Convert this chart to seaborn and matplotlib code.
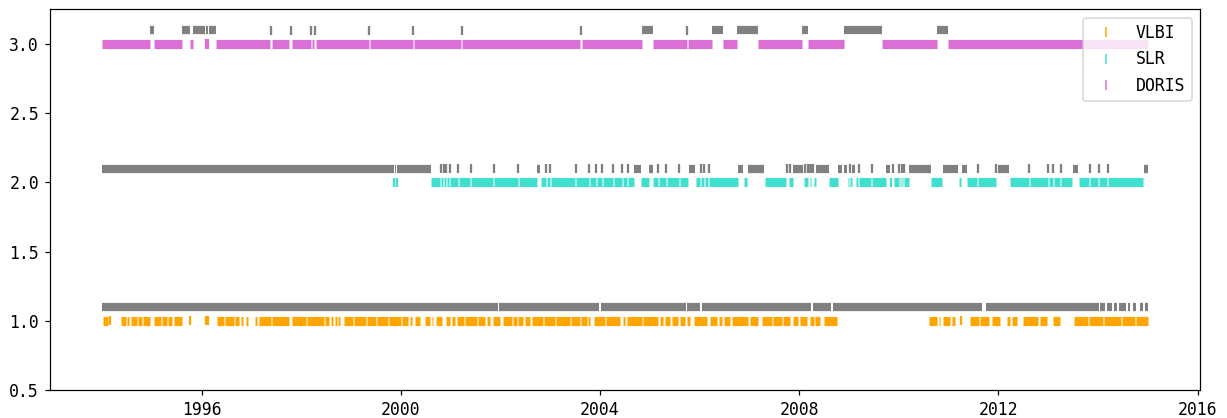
import numpy as np
import pandas as pd
import matplotlib
matplotlib.use("Agg")
import matplotlib.pyplot as plt
from matplotlib.lines import Line2D
import seaborn as sns

# ---------------- data (decimal years) ----------------
techniques = ["VLBI", "SLR", "DORIS"]
levels = [1.0, 2.0, 3.0]          # row of available data
gap_offset = 0.1                   # grey row of missing data

# VLBI available runs / single days
vlbi_runs = [
    (1994.02, 1994.12), (1994.38, 1994.48), (1994.50, 1994.55), (1994.58, 1994.70),
    (1994.72, 1994.80), (1994.83, 1994.97),
    (1995.05, 1995.18), (1995.20, 1995.30), (1995.33, 1995.40), (1995.45, 1995.60),
    (1996.31, 1996.45), (1996.47, 1996.65), (1996.68, 1996.76), (1996.79, 1996.84),
    (1996.89, 1996.94),
    (1997.07, 1997.12), (1997.16, 1997.40), (1997.42, 1997.76), (1997.81, 1998.10),
    (1998.12, 1998.45), (1998.48, 1998.56), (1998.59, 1998.64), (1998.67, 1998.72),
    (1998.74, 1998.78),
    (1998.86, 1999.05), (1999.07, 1999.30), (1999.32, 1999.50), (1999.52, 1999.75),
    (1999.77, 2000.00), (2000.02, 2000.15), (2000.19, 2000.22), (2000.29, 2000.39),
    (2000.49, 2000.59), (2000.62, 2000.65), (2000.71, 2000.82), (2000.90, 2000.99),
    (2001.02, 2001.09), (2001.12, 2001.26), (2001.29, 2001.53), (2001.56, 2001.69),
    (2001.73, 2001.79), (2001.86, 2001.99), (2002.06, 2002.23), (2002.26, 2002.33),
    (2002.36, 2002.46), (2002.50, 2002.60), (2002.63, 2002.85), (2002.87, 2003.10),
    (2003.12, 2003.40), (2003.42, 2003.60), (2003.62, 2003.73), (2003.76, 2003.79),
    (2003.87, 2004.10), (2004.12, 2004.40), (2004.47, 2004.50), (2004.54, 2004.84),
    (2004.87, 2005.17), (2005.21, 2005.27), (2005.31, 2005.41), (2005.44, 2005.57),
    (2005.61, 2005.71), (2005.74, 2005.81), (2005.88, 2006.14), (2006.21, 2006.35),
    (2006.38, 2006.45), (2006.48, 2006.61), (2006.65, 2006.98), (2007.01, 2007.18),
    (2007.25, 2007.45), (2007.48, 2007.65), (2007.68, 2007.82), (2007.88, 2007.98),
    (2008.02, 2008.15), (2008.22, 2008.29), (2008.32, 2008.42), (2008.49, 2008.76),
    (2010.61, 2010.76), (2010.80, 2010.83), (2010.88, 2011.03), (2011.06, 2011.13),
    (2011.43, 2011.60), (2011.62, 2011.80), (2011.87, 2012.03), (2012.17, 2012.24),
    (2012.27, 2012.37), (2012.50, 2012.80), (2012.84, 2012.97), (2013.10, 2013.24),
    (2013.51, 2013.80), (2013.82, 2014.10), (2014.12, 2014.45), (2014.47, 2014.75),
    (2014.77, 2015.00),
]
vlbi_days = [1994.17, 1995.76, 1996.08, 1996.13, 2011.24]

vlbi_gap_runs = [
    (1994.00, 2001.95), (2001.98, 2003.99), (2004.02, 2005.72), (2005.75, 2006.01),
    (2006.04, 2008.24), (2008.27, 2008.64), (2008.67, 2011.66), (2011.75, 2014.01),
    (2014.04, 2014.14), (2014.17, 2014.27), (2014.31, 2014.38), (2014.42, 2014.57),
    (2014.60, 2014.65), (2014.71, 2014.77), (2014.84, 2014.90), (2014.94, 2015.00),
]
vlbi_gap_days = []

# SLR
slr_runs = [
    (2000.60, 2000.79), (2000.81, 2000.85), (2000.87, 2000.90), (2000.92, 2000.97),
    (2000.99, 2001.14), (2001.16, 2001.40), (2001.42, 2001.86), (2001.88, 2002.35),
    (2002.37, 2002.73), (2002.81, 2002.91), (2002.93, 2002.99), (2003.01, 2003.50),
    (2003.52, 2003.77), (2003.79, 2003.91), (2003.93, 2004.04), (2004.06, 2004.26),
    (2004.28, 2004.44), (2004.46, 2004.55), (2004.57, 2004.68), (2004.83, 2004.98),
    (2005.07, 2005.16), (2005.18, 2005.32), (2005.34, 2005.58), (2005.60, 2005.77),
    (2005.92, 2006.01), (2006.03, 2006.08), (2006.10, 2006.17), (2006.19, 2006.77),
    (2006.89, 2006.96), (2007.31, 2007.73), (2007.79, 2007.87), (2008.09, 2008.17),
    (2008.22, 2008.24), (2008.29, 2008.33), (2008.60, 2008.77), (2008.97, 2009.00),
    (2009.02, 2009.05), (2009.13, 2009.18), (2009.20, 2009.45), (2009.47, 2009.74),
    (2009.90, 2010.00), (2010.02, 2010.05), (2010.07, 2010.09), (2010.11, 2010.20),
    (2010.65, 2010.87), (2011.20, 2011.25), (2011.37, 2011.57), (2011.59, 2011.95),
    (2012.23, 2012.61), (2012.63, 2012.99), (2013.01, 2013.09), (2013.11, 2013.24),
    (2013.26, 2013.48), (2013.61, 2013.82), (2013.84, 2014.00), (2014.02, 2014.18),
    (2014.20, 2014.91),
]
slr_days = [1999.87, 1999.92, 2009.84]

slr_gap_runs = [
    (1994.00, 1999.86), (1999.88, 1999.91), (1999.93, 2000.60),
    (2002.74, 2002.80), (2004.69, 2004.82), (2004.99, 2005.06), (2005.78, 2005.91),
    (2006.78, 2006.88), (2006.97, 2007.30), (2007.88, 2008.08), (2008.34, 2008.59),
    (2008.78, 2008.86), (2008.89, 2008.96), (2009.06, 2009.12), (2009.75, 2009.83),
    (2010.21, 2010.64), (2010.88, 2011.19), (2011.26, 2011.36), (2012.00, 2012.22),
    (2013.49, 2013.60), (2014.92, 2015.00),
]
slr_gap_days = [
    2000.80, 2000.86, 2000.91, 2000.98, 2001.15, 2001.41, 2001.87, 2002.36,
    2002.92, 2003.00, 2003.51, 2003.78, 2003.92, 2004.05, 2004.27, 2004.45, 2004.56,
    2005.17, 2005.33, 2005.59, 2006.02, 2006.09, 2006.18, 2007.76, 2007.82,
    2008.12, 2008.18, 2008.21, 2008.25, 2008.28, 2009.01, 2009.19, 2009.46,
    2009.88, 2010.01, 2010.06, 2010.10, 2011.58, 2011.96, 2012.62, 2013.00,
    2013.10, 2013.25, 2013.83, 2014.01, 2014.19,
]

# DORIS
doris_runs = [
    (1994.00, 1994.97), (1995.04, 1995.61), (1995.76, 1995.82), (1996.29, 1997.38),
    (1997.42, 1997.76), (1997.82, 1998.19), (1998.22, 1998.26), (1998.30, 1999.36),
    (1999.38, 2000.24), (2000.26, 2001.21), (2001.23, 2003.59), (2003.64, 2004.84),
    (2005.07, 2005.74), (2005.76, 2006.24), (2006.47, 2006.75), (2007.18, 2008.05),
    (2008.18, 2008.89), (2009.66, 2010.76), (2010.98, 2015.00),
]
doris_days = [1996.08, 1996.14]

doris_gap_runs = [
    (1994.97, 1995.04), (1995.61, 1995.76), (1995.82, 1996.07), (1996.09, 1996.13),
    (1996.15, 1996.29), (2004.84, 2005.07), (2006.24, 2006.47), (2006.75, 2007.18),
    (2008.05, 2008.18), (2008.89, 2009.66), (2010.76, 2010.98),
]
doris_gap_days = [1997.40, 1997.79, 1998.20, 1998.28, 1999.37, 2000.25, 2001.22,
                  2003.61, 2005.75]

colors = ["orange", "turquoise", "orchid"]
gap_color = "gray"
xticks = [1996, 2000, 2004, 2008, 2012, 2016]

# ---------------- figure ----------------
DPI = 110
FS = 10.8
fig = plt.figure(figsize=(1227 / DPI, 418 / DPI), dpi=DPI)
plt.rcParams["font.family"] = ["DejaVu Sans Mono"]
ax = fig.add_axes([49.6 / 1227, 1 - 390 / 418, (1200.2 - 49.6) / 1227, (390 - 9.4) / 418])

runs = [vlbi_runs, slr_runs, doris_runs]
days = [vlbi_days, slr_days, doris_days]
gap_runs = [vlbi_gap_runs, slr_gap_runs, doris_gap_runs]
gap_days = [vlbi_gap_days, slr_gap_days, doris_gap_days]

MS = 6.0  # marker length in points
rows = []
for name, lev, col, r, d, gr, gd in zip(techniques, levels, colors, runs, days, gap_runs, gap_days):
    s = np.array([a for a, b in r]); e = np.array([b for a, b in r])
    ax.hlines(np.full(len(s), lev), s, e, colors=col, linewidth=MS, capstyle="butt")
    gs = np.array([a for a, b in gr]); ge = np.array([b for a, b in gr])
    ax.hlines(np.full(len(gs), lev + gap_offset), gs, ge, colors=gap_color,
              linewidth=MS * 0.9, capstyle="butt")
    for t in d:
        rows.append({"t": t, "y": lev, "series": name})
    for t in gd:
        rows.append({"t": t, "y": lev + gap_offset, "series": name + "_gap"})

df = pd.DataFrame(rows)
palette = {n: c for n, c in zip(techniques, colors)}
palette.update({n + "_gap": gap_color for n in techniques})
sns.scatterplot(data=df, x="t", y="y", hue="series", palette=palette, marker="|",
                s=MS ** 2, linewidth=1.5, legend=False, ax=ax)

ax.set_xlim(1992.95, 2016.05)
ax.set_ylim(0.5, 3.25)
ax.set_xticks(xticks)
ax.set_xticklabels([str(x) for x in xticks])
ax.set_yticks([0.5, 1.0, 1.5, 2.0, 2.5, 3.0])
ax.set_xlabel("")
ax.set_ylabel("")
ax.tick_params(labelsize=FS)

handles = [Line2D([0], [0], marker="|", linestyle="None", color=c, markersize=6,
                  markeredgewidth=1.0, label=n) for n, c in zip(techniques, colors)]
ax.legend(handles=handles, loc="upper right", fontsize=FS)

fig.savefig("out.png", dpi=DPI)
